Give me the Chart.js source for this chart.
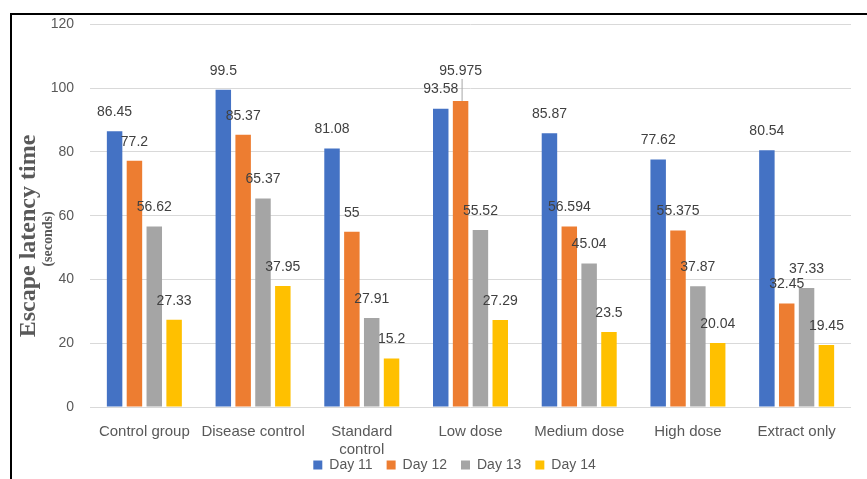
<!DOCTYPE html>
<html>
<head>
<meta charset="utf-8">
<script src="https://cdn.jsdelivr.net/npm/chart.js@4.4.1/dist/chart.umd.min.js"></script>
<style>
  html, body { margin: 0; padding: 0; background: #ffffff; overflow: hidden; }
  #wrap { position: relative; width: 867px; height: 479px; }
  #frame {
    position: absolute; left: 10px; top: 13px; right: -20px; bottom: -20px;
    border-top: 2px solid #000; border-left: 2px solid #000;
    pointer-events: none;
  }
  canvas { position: absolute; left: 0; top: 0; }
</style>
</head>
<body>
<div id="wrap">
  <canvas id="chart" width="867" height="479"></canvas>
  <div id="frame"></div>
</div>
<script>
// Groups and escape latency readings (seconds) per training day
const categories = ['Control group', 'Disease control', ['Standard', 'control'], 'Low dose', 'Medium dose', 'High dose', 'Extract only'];
const seriesNames = ['Day 11', 'Day 12', 'Day 13', 'Day 14'];
const day11 = [86.45, 99.5, 81.08, 93.58, 85.87, 77.62, 80.54];
const day12 = [77.2, 85.37, 55, 95.975, 56.594, 55.375, 32.45];
const day13 = [56.62, 65.37, 27.91, 55.52, 45.04, 37.87, 37.33];
const day14 = [27.33, 37.95, 15.2, 27.29, 23.5, 20.04, 19.45];
const yTicks = [0, 20, 40, 60, 80, 100, 120];

const colors = ['#4472C4', '#ED7D31', '#A5A5A5', '#FFC000'];
const seriesData = [day11, day12, day13, day14];

// Value labels above each bar; one label is lifted higher and tied back with a leader line
const LABEL_GAP = 19;
const lifted = { '1-3': 11 };
const valueLabels = {
  id: 'valueLabels',
  afterDatasetsDraw(chart) {
    const ctx = chart.ctx;
    ctx.save();
    ctx.font = '14px "Liberation Sans", Arial, sans-serif';
    ctx.fillStyle = '#404040';
    ctx.textAlign = 'center';
    ctx.textBaseline = 'middle';
    chart.data.datasets.forEach((ds, di) => {
      const meta = chart.getDatasetMeta(di);
      meta.data.forEach((bar, i) => {
        const extra = lifted[di + '-' + i] || 0;
        const y = bar.y - LABEL_GAP - extra;
        if (extra) {
          ctx.save();
          ctx.strokeStyle = '#A6A6A6';
          ctx.lineWidth = 1;
          ctx.beginPath();
          ctx.moveTo(bar.x + 1.5, y + 8);
          ctx.lineTo(bar.x + 1.5, bar.y);
          ctx.stroke();
          ctx.restore();
        }
        ctx.fillText(String(ds.data[i]), bar.x, y);
      });
    });
    ctx.restore();
  }
};

// Rotated axis title with its unit line beneath
const axisTitle = {
  id: 'axisTitle',
  afterDraw(chart) {
    const ctx = chart.ctx;
    ctx.save();
    ctx.fillStyle = '#595959';
    ctx.textAlign = 'center';
    ctx.textBaseline = 'alphabetic';
    ctx.translate(35, 236);
    ctx.rotate(-Math.PI / 2);
    ctx.font = 'bold 24px "Liberation Serif", "Times New Roman", serif';
    ctx.fillText('Escape latency time', 0, 0);
    ctx.restore();
    ctx.save();
    ctx.fillStyle = '#595959';
    ctx.textAlign = 'center';
    ctx.textBaseline = 'alphabetic';
    ctx.translate(52, 239);
    ctx.rotate(-Math.PI / 2);
    ctx.font = 'bold 14px "Liberation Serif", "Times New Roman", serif';
    ctx.fillText('(seconds)', 0, 0);
    ctx.restore();
  }
};

// The legend sits tucked up against the two-line category label, centred under the plot
const legendPlacement = {
  id: 'legendPlacement',
  afterLayout(chart) {
    const lg = chart.legend;
    if (!lg) return;
    const dy = -14, dx = 29;
    lg.top += dy; lg.bottom += dy;
    lg.left += dx; lg.right += dx;
  }
};

new Chart(document.getElementById('chart'), {
  type: 'bar',
  data: {
    labels: categories,
    datasets: seriesNames.map((name, k) => ({
      label: name,
      data: seriesData[k],
      backgroundColor: colors[k],
      borderWidth: 0,
      categoryPercentage: 0.73,
      barPercentage: 0.78
    }))
  },
  options: {
    responsive: false,
    animation: false,
    layout: { padding: { top: 24, right: 16, left: 0, bottom: -17 } },
    plugins: {
      legend: {
        position: 'bottom',
        labels: {
          boxWidth: 9,
          boxHeight: 9,
          padding: 14,
          color: '#595959',
          font: { family: '"Liberation Sans", Arial, sans-serif', size: 14 }
        }
      },
      tooltip: { enabled: false }
    },
    scales: {
      x: {
        grid: { display: false, drawTicks: false },
        border: { display: false },
        ticks: {
          color: '#595959',
          padding: 16,
          maxRotation: 0,
          autoSkip: false,
          font: { family: '"Liberation Sans", Arial, sans-serif', size: 15 }
        },
        afterFit(scale) { scale.height = 51; }
      },
      y: {
        min: 0,
        max: 120,
        afterBuildTicks(scale) { scale.ticks = yTicks.map(v => ({ value: v })); },
        grid: { color: '#D9D9D9', lineWidth: 1, drawTicks: false },
        border: { display: false },
        ticks: {
          color: '#595959',
          padding: 16,
          font: { family: '"Liberation Sans", Arial, sans-serif', size: 14 }
        },
        afterFit(scale) { scale.width = 90; }
      }
    }
  },
  plugins: [valueLabels, axisTitle, legendPlacement]
});
</script>
</body>
</html>
